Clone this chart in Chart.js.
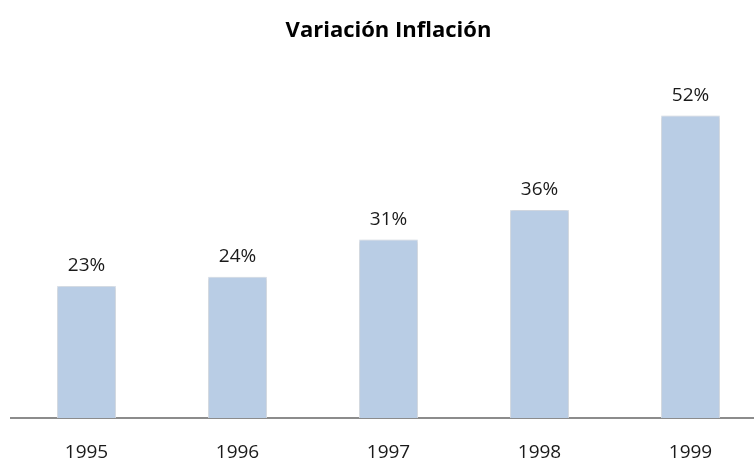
<!DOCTYPE html>
<html>
<head>
<meta charset="utf-8">
<script src="https://cdn.jsdelivr.net/npm/chart.js@4"></script>
<style>
  body { margin: 0; overflow: hidden; background: #fff; }
  .canvas-holder { position: relative; width: 766px; height: 459px; }
</style>
</head>
<body>
<div class="canvas-holder"><canvas id="inflacion"></canvas></div>
<script>
const years = ["1995", "1996", "1997", "1998", "1999"];
const inflacion = [22.8, 24.4, 30.8, 35.9, 52.2];

// draws the % over each bar
const barLabels = {
    id: 'barLabels',
    afterDatasetsDraw(chart) {
        const ctx = chart.ctx;
        const meta = chart.getDatasetMeta(0);
        ctx.save();
        ctx.font = '19px "Open Sans"';
        ctx.fillStyle = '#1a1a1a';
        ctx.textAlign = 'center';
        ctx.textBaseline = 'alphabetic';
        meta.data.forEach((bar, i) => {
            ctx.fillText(Math.round(inflacion[i]) + '%', bar.x, bar.y - 15);
        });
        ctx.restore();
    }
};

// soft shadow like the original bars
const barShadow = {
    id: 'barShadow',
    beforeDatasetsDraw(chart) {
        chart.ctx.save();
        chart.ctx.shadowColor = 'rgba(0,0,0,0.18)';
        chart.ctx.shadowBlur = 3;
    },
    afterDatasetsDraw(chart) {
        chart.ctx.restore();
    }
};

let ctx = document.getElementById('inflacion').getContext('2d');
let chart = new Chart(ctx, {
    type: 'bar',
    data: {
        labels: years,
        datasets: [{
            label: "Inflación",
            data: inflacion,
            backgroundColor: '#B9CDE5',
            borderColor: '#dfe6ef',
            borderWidth: 1,
            categoryPercentage: 1,
            barPercentage: 0.39
        }]
    },
    options: {
        responsive: true,
        maintainAspectRatio: false,
        animation: false,
        layout: { padding: { left: 11, right: 0, top: 0, bottom: 0 } },
        plugins: {
            legend: { display: false },
            tooltip: { enabled: false },
            title: {
                display: true,
                text: 'Variación Inflación',
                color: '#000',
                font: { family: 'Open Sans', size: 22, weight: 'bold' },
                padding: { top: 18, bottom: 26 }
            }
        },
        scales: {
            x: {
                grid: { display: false, drawTicks: false },
                border: { display: true, color: '#8c8c8c', width: 2 },
                ticks: {
                    color: '#1a1a1a',
                    padding: 23,
                    font: { family: 'Open Sans', size: 19 }
                },
                afterFit: (scale) => { scale.height = 41; }
            },
            y: {
                display: false,
                min: 0,
                max: 60
            }
        }
    },
    plugins: [barShadow, barLabels]
});
</script>
</body>
</html>
